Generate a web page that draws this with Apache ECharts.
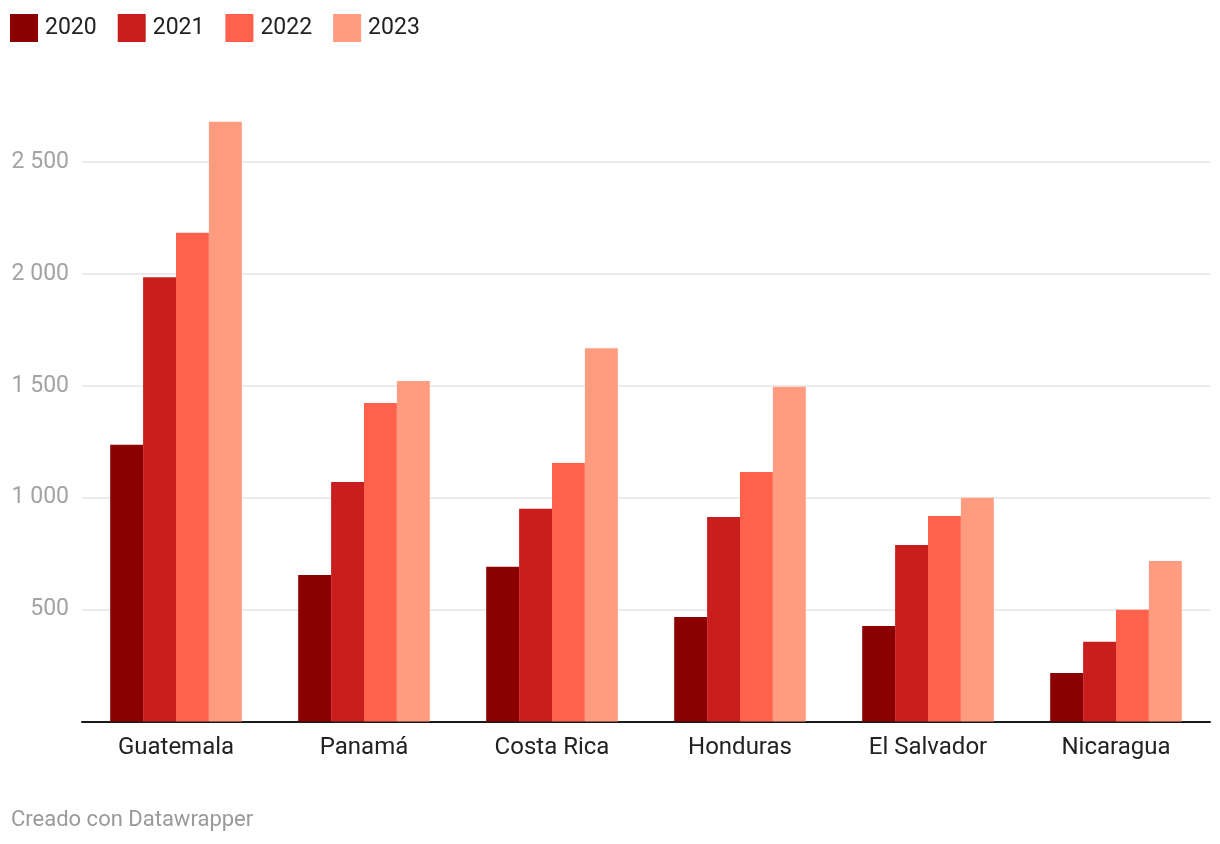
<!DOCTYPE html>
<html>
<head>
<meta charset="utf-8">
<script src="https://cdn.jsdelivr.net/npm/echarts@6/dist/echarts.min.js"></script>
<style>
html,body{margin:0;padding:0;background:#fff;}
#chart{width:1220px;height:844px;}
</style>
</head>
<body>
<div id="chart"></div>
<script>
const categories = ['Guatemala', 'Panamá', 'Costa Rica', 'Honduras', 'El Salvador', 'Nicaragua'];
const years = ['2020', '2021', '2022', '2023'];
const v2020 = [1236, 655, 691, 467, 427, 217];
const v2021 = [1985, 1070, 950, 914, 789, 356];
const v2022 = [2183, 1423, 1155, 1115, 918, 499];
const v2023 = [2680, 1521, 1668, 1496, 1000, 717];
const colors = ['#8b0000', '#c91e1e', '#ff614d', '#ff9b7e'];
const seriesValues = [v2020, v2021, v2022, v2023];

const fmt = v => String(v).replace(/\B(?=(\d{3})+(?!\d))/g, ' ');

const chart = echarts.init(document.getElementById('chart'));
chart.setOption({
  animation: false,
  textStyle: { fontFamily: 'Roboto' },
  title: {
    text: 'Creado con Datawrapper',
    left: 6, top: 804,
    textStyle: { fontFamily: 'Roboto', fontSize: 22, fontWeight: 'normal', color: '#9a9a9a' }
  },
  legend: {
    left: 10, top: 14, padding: 0,
    icon: 'rect',
    itemWidth: 28, itemHeight: 28, itemGap: 21,
    textStyle: { fontFamily: 'Roboto', fontSize: 23, color: '#222', padding: [0, 0, 0, 2] },
    data: years
  },
  grid: { left: 82, right: 10, top: 50, bottom: 122.5, containLabel: false },
  xAxis: {
    type: 'category',
    data: categories,
    axisLine: { show: true, lineStyle: { color: '#1a1a1a', width: 2 } },
    axisTick: { show: false },
    axisLabel: { fontFamily: 'Roboto', fontSize: 24, color: '#222', margin: 14 }
  },
  yAxis: {
    type: 'value',
    min: 0, max: 3000, interval: 500,
    axisLine: { show: false },
    axisTick: { show: false },
    splitLine: { show: true, showMaxLine: false, lineStyle: { color: '#e6e6e6', width: 1.5 } },
    axisLabel: {
      fontFamily: 'Roboto', fontSize: 23, color: '#a3a3a3', margin: 13,
      showMinLabel: false, showMaxLabel: false,
      formatter: v => (v === 0 || v === 3000) ? '' : fmt(v)
    }
  },
  series: years.map((y, i) => ({
    name: y,
    type: 'bar',
    data: seriesValues[i],
    itemStyle: { color: colors[i] },
    barGap: '0%',
    barCategoryGap: '30%'
  }))
});
</script>
</body>
</html>
